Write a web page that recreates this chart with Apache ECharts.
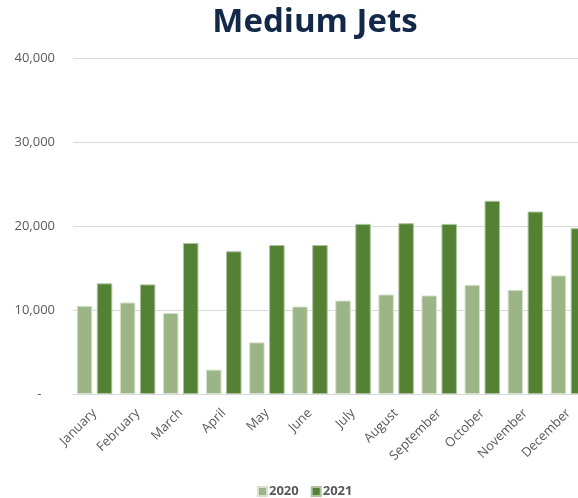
<!DOCTYPE html>
<html>
<head>
<meta charset="utf-8">
<script src="https://cdn.jsdelivr.net/npm/echarts@6/dist/echarts.min.js"></script>
<style>
html,body{margin:0;padding:0;background:#fff;overflow:hidden;}
#chart{width:620px;height:498px;}
</style>
</head>
<body>
<div id="chart"></div>
<script>
var months = ['January','February','March','April','May','June','July','August','September','October','November','December'];
var values2020 = [10500, 10900, 9650, 2900, 6150, 10420, 11130, 11850, 11730, 13000, 12400, 14120];
var values2021 = [13170, 13050, 17980, 16990, 17740, 17740, 20250, 20330, 20250, 23000, 21720, 19740];
var seriesNames = ['2020', '2021'];
var yTicks = [0, 10000, 20000, 30000, 40000];

var chart = echarts.init(document.getElementById('chart'), null, {renderer: 'canvas'});
var fontFam = '"Open Sans", "Liberation Sans", sans-serif';
chart.setOption({
  animation: false,
  title: {
    text: 'Medium Jets',
    left: 310,
    textAlign: 'center',
    top: 1,
    textStyle: {fontFamily: fontFam, fontSize: 33, fontWeight: 'bold', color: '#14294a'}
  },
  legend: {
    data: seriesNames,
    left: 252,
    top: 480,
    orient: 'horizontal',
    itemWidth: 9,
    itemHeight: 9,
    itemGap: 12,
    icon: 'rect',
    textStyle: {fontFamily: fontFam, fontSize: 13, fontWeight: 'bold', color: '#595959', padding: [0,0,0,-3]}
  },
  grid: {left: 73, right: 30, top: 58, bottom: 104, containLabel: false},
  xAxis: {
    type: 'category',
    data: months,
    axisLine: {lineStyle: {color: '#d9d9d9', width: 1}},
    axisTick: {show: false},
    axisLabel: {rotate: 45, interval: 0, color: '#595959', fontFamily: fontFam, fontSize: 13, margin: 17}
  },
  yAxis: {
    type: 'value',
    min: yTicks[0],
    max: yTicks[yTicks.length - 1],
    interval: 10000,
    axisLine: {show: false},
    axisTick: {show: false},
    splitLine: {lineStyle: {color: '#d9d9d9', width: 1}},
    axisLabel: {
      color: '#595959', fontFamily: fontFam, fontSize: 13, margin: 18,
      formatter: function (v) { return v === 0 ? '-    ' : v.toLocaleString('en-US'); }
    }
  },
  series: [
    {
      name: seriesNames[0], type: 'bar', data: values2020,
      barWidth: 15.5, barGap: '29%',
      itemStyle: {color: '#9bb587', borderColor: '#d7e2cf', borderWidth: 1}
    },
    {
      name: seriesNames[1], type: 'bar', data: values2021,
      barWidth: 15.5, barGap: '29%',
      itemStyle: {color: '#548235', borderColor: '#aec39e', borderWidth: 1}
    }
  ]
});
</script>
</body>
</html>
